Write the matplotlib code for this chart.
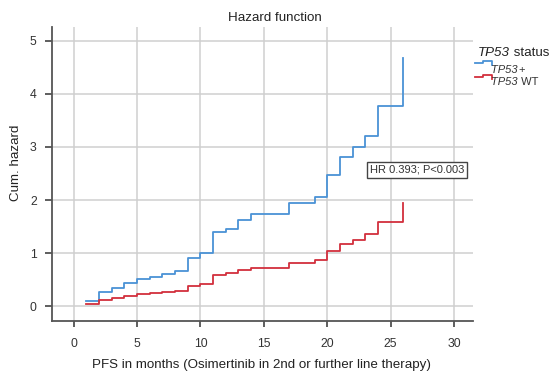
import matplotlib
matplotlib.use("Agg")
import matplotlib.pyplot as plt
from matplotlib.lines import Line2D

plt.rcParams['font.family'] = ['Liberation Sans', 'DejaVu Sans']

# ---- data ----
times = [1, 2, 3, 4, 5, 6, 7, 8, 9, 10, 11, 12, 13, 14, 17, 19, 20, 21, 22, 23, 24, 26]
haz_mut = [0.10, 0.27, 0.35, 0.44, 0.51, 0.54, 0.61, 0.66, 0.91, 1.01, 1.39, 1.45,
           1.63, 1.73, 1.94, 2.06, 2.47, 2.81, 3.00, 3.21, 3.78, 4.67]
haz_wt = [0.04, 0.11, 0.16, 0.20, 0.22, 0.24, 0.26, 0.28, 0.38, 0.42, 0.58, 0.62,
          0.68, 0.72, 0.81, 0.87, 1.03, 1.18, 1.25, 1.35, 1.58, 1.95]
gene = "TP53"
group_suffixes = ["+", " WT"]
legend_title_suffix = " status"
xticks = [0, 5, 10, 15, 20, 25, 30]
yticks = [0, 1, 2, 3, 4, 5]
annotation = "HR 0.393; P<0.003"

blue = '#4a92d6'
red = '#d22f3d'
W, H = 550, 372

fig = plt.figure(figsize=(5.5, 3.72), dpi=100)
ax = fig.add_axes([52/W, 1-321/H, (473-52)/W, (321-27)/H])

ax.grid(True, color='#cfcfcf', lw=1.1)
ax.set_axisbelow(True)
ax.step(times, haz_mut, where='post', color=blue, lw=1.3)
ax.step(times, haz_wt, where='post', color=red, lw=1.3)

ax.set_xlim(-1.71, 31.5)
ax.set_ylim(-0.28, 5.26)
ax.set_xticks(xticks)
ax.set_yticks(yticks)
for s in ['top', 'right']:
    ax.spines[s].set_visible(False)
for s in ['left', 'bottom']:
    ax.spines[s].set_color('#555555')
    ax.spines[s].set_linewidth(1.3)
ax.tick_params(axis='y', length=5, width=1.1, color='#333333', pad=6,
               labelsize=8.8, labelcolor='#333333')
ax.tick_params(axis='x', length=4.5, width=1.1, color='#333333', pad=8,
               labelsize=8.8, labelcolor='#333333')

ax.text(27.1, 2.57, annotation, ha='center', va='center', fontsize=8,
        color='#333333',
        bbox=dict(boxstyle='square,pad=0.25', fc='white', ec='#444444', lw=1))

fig.text(275/W, 1-18/H, "Hazard function", ha='center', va='center',
         fontsize=9.6, color='#222222')
fig.text(262/W, 1-365/H, "PFS in months (Osimertinib in 2nd or further line therapy)",
         ha='center', va='center', fontsize=9.6, color='#222222')
fig.text(16/W, 1-163/H, "Cum. hazard", ha='center', va='center', rotation=90,
         fontsize=9.6, color='#222222')

renderer = fig.canvas.get_renderer()


def mixed_text(x, y_base, italic_part, rest, size, color):
    t1 = fig.text(x/W, 1-y_base/H, italic_part, ha='left', va='baseline',
                  fontsize=size, style='italic', color=color)
    w = t1.get_window_extent(renderer).width
    fig.text((x + w)/W, 1-y_base/H, rest, ha='left', va='baseline',
             fontsize=size, color=color)


# legend (manual)
mixed_text(477.5, 56.5, gene, legend_title_suffix, 9.6, '#222222')
icon_colors = [blue, red]
icon_y = [63.3, 77.3]
label_base = [73.4, 85.0]
for c, iy, lb, suf in zip(icon_colors, icon_y, label_base, group_suffixes):
    xs = [475, 483.3, 483.3, 491.7, 491.7]
    ys = [iy, iy, iy - 2.6, iy - 2.6, iy + 1.8]
    fig.add_artist(Line2D([x/W for x in xs], [1 - y/H for y in ys],
                          transform=fig.transFigure, color=c, lw=1.3))
    mixed_text(491.5, lb, gene, suf, 8, '#333333')

fig.savefig('out.png', dpi=100)
